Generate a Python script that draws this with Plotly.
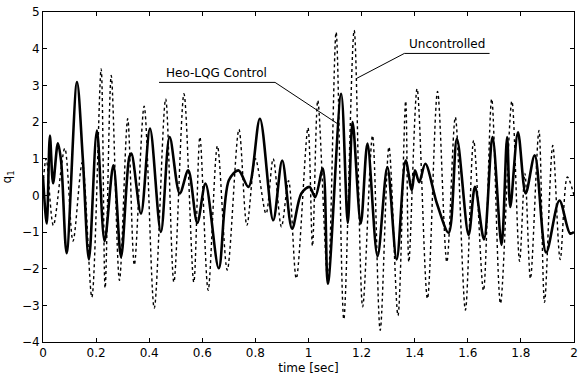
import plotly.graph_objects as go

# Heo-LQG controlled response (solid)
t_ctrl = [0.000, 0.014, 0.026, 0.038, 0.056, 0.068, 0.089, 0.128, 0.150, 0.173,
          0.203, 0.232, 0.265, 0.294, 0.325, 0.333, 0.369, 0.403, 0.444, 0.477,
          0.515, 0.547, 0.581, 0.612, 0.662, 0.700, 0.736, 0.774, 0.817, 0.867,
          0.901, 0.938, 0.973, 1.004, 1.025, 1.054, 1.073, 1.123, 1.148, 1.166,
          1.197, 1.222, 1.260, 1.297, 1.332, 1.366, 1.389, 1.401, 1.417, 1.440,
          1.484, 1.528, 1.559, 1.603, 1.627, 1.661, 1.693, 1.727, 1.748, 1.760,
          1.789, 1.818, 1.852, 1.895, 1.945, 1.985, 2.000]
q_ctrl = [0.50, -0.77, 1.63, 0.33, 1.42, 0.95, -1.58, 3.09, 1.00, -1.75,
          1.77, -1.25, 0.82, -1.68, 1.04, 1.14, -0.50, 1.82, -1.00, 1.59,
          0.05, 0.68, -0.75, 0.32, -1.99, 0.41, 0.68, 0.23, 2.09, -0.68,
          0.95, -0.91, 0.05, 0.23, -0.05, 0.73, -2.41, 2.77, -0.75, 2.00,
          -0.77, 1.41, -1.66, 0.77, -1.75, 0.95, 0.14, 0.68, 0.36, 0.86,
          -0.23, -1.02, 1.54, -1.08, 0.23, -1.20, 1.59, -1.35, 1.59, -0.32,
          1.72, 0.05, 1.09, -1.56, -0.14, -1.04, -1.00]

# Uncontrolled response (dotted)
t_unc = [0.000, 0.012, 0.039, 0.082, 0.113, 0.148, 0.184, 0.219, 0.234, 0.257,
         0.288, 0.319, 0.344, 0.381, 0.419, 0.462, 0.493, 0.531, 0.568, 0.591,
         0.622, 0.657, 0.694, 0.738, 0.768, 0.800, 0.840, 0.867, 0.898, 0.925,
         0.954, 0.998, 1.015, 1.035, 1.073, 1.104, 1.133, 1.172, 1.204, 1.241,
         1.270, 1.303, 1.337, 1.366, 1.378, 1.409, 1.448, 1.486, 1.521, 1.553,
         1.591, 1.622, 1.659, 1.690, 1.723, 1.766, 1.795, 1.815, 1.836, 1.868,
         1.889, 1.920, 1.948, 1.975, 2.000]
q_unc = [0.30, 1.00, -0.82, 1.28, -1.25, 0.90, -2.78, 3.45, -2.53, 3.27,
         -2.32, 2.09, -1.90, 2.43, -3.08, 2.63, -2.37, 2.77, -2.37, 1.59,
         -2.59, 1.35, -2.04, 1.80, -0.82, 1.00, -0.50, 1.00, -0.86, 0.40,
         -2.27, 1.84, -1.38, 2.59, -2.36, 4.45, -3.38, 4.50, -3.04, 1.63,
         -3.68, 1.32, -3.28, 2.57, -1.82, 2.91, -2.82, 2.83, -1.82, 2.13,
         -3.13, 1.50, -2.60, 2.63, -2.95, 2.57, -1.80, 0.60, -2.27, 1.77,
         -2.92, 1.36, -1.75, 0.50, 0.00]

x_ticks = [0, 0.2, 0.4, 0.6, 0.8, 1, 1.2, 1.4, 1.6, 1.8, 2]
x_tick_text = ["0", "0.2", "0.4", "0.6", "0.8", "1", "1.2", "1.4", "1.6", "1.8", "2"]
y_ticks = [-4, -3, -2, -1, 0, 1, 2, 3, 4, 5]

fig = go.Figure()
fig.add_trace(go.Scatter(x=t_unc, y=q_unc, mode="lines", name="Uncontrolled",
                         line=dict(color="black", width=1.4, dash="dot", shape="spline", smoothing=0.9)))
fig.add_trace(go.Scatter(x=t_ctrl, y=q_ctrl, mode="lines", name="Heo-LQG Control",
                         line=dict(color="black", width=2.6, shape="spline", smoothing=0.9)))

font = "DejaVu Sans, Verdana, sans-serif"

# leader lines and underlines
fig.add_shape(type="path", xref="x", yref="y",
              path="M 0.437 3.08 L 0.874 3.08 L 1.110 1.95",
              line=dict(color="black", width=1))
fig.add_shape(type="path", xref="x", yref="y",
              path="M 1.682 3.87 L 1.361 3.87 L 1.179 3.18",
              line=dict(color="black", width=1))
fig.add_annotation(x=0.655, y=3.09, xref="x", yref="y", text="Heo-LQG Control",
                   showarrow=False, yanchor="bottom", font=dict(family=font, size=12, color="black"))
fig.add_annotation(x=1.521, y=3.88, xref="x", yref="y", text="Uncontrolled",
                   showarrow=False, yanchor="bottom", font=dict(family=font, size=12, color="black"))

axis_common = dict(showgrid=False, zeroline=False, showline=True, linecolor="black",
                   linewidth=1, mirror="ticks", ticks="inside", ticklen=4,
                   tickcolor="black", tickfont=dict(family=font, size=12, color="black"))

fig.update_layout(
    width=582, height=378,
    margin=dict(l=43, r=4, t=12, b=36),
    paper_bgcolor="white", plot_bgcolor="white",
    showlegend=False,
    xaxis=dict(range=[0, 2], tickvals=x_ticks, ticktext=x_tick_text,
               title=dict(text="time [sec]", font=dict(family=font, size=12, color="black"), standoff=4),
               **axis_common),
    yaxis=dict(range=[-4, 5], tickvals=y_ticks,
               title=dict(text="q<sub>1</sub>", font=dict(family=font, size=12, color="black"), standoff=8),
               **axis_common),
)

fig.write_html("out.html")
